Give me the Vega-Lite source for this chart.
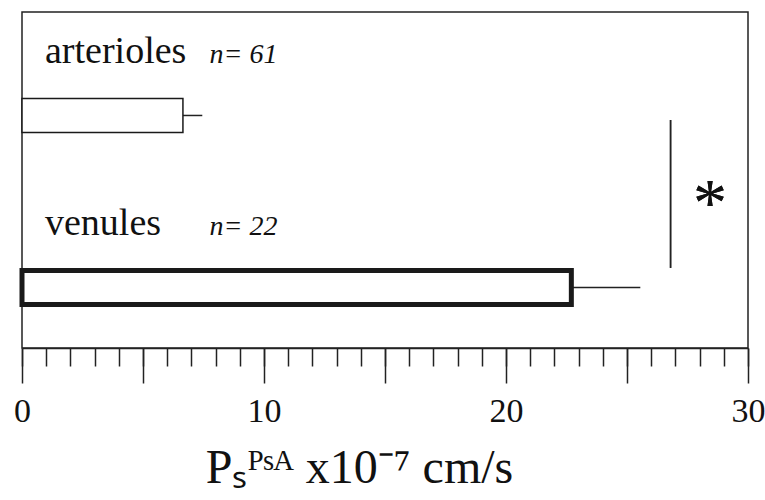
{
  "$schema": "https://vega.github.io/schema/vega-lite/v6.json",
  "width": 726,
  "height": 336,
  "autosize": {"type": "none"},
  "padding": {"left": 22, "top": 12, "right": 17, "bottom": 152},
  "background": "white",
  "view": {"stroke": "#222", "strokeWidth": 1.5},
  "config": {
    "font": "Liberation Serif",
    "axis": {"labelFont": "Liberation Serif", "titleFont": "Liberation Serif"},
    "text": {"font": "Liberation Serif"}
  },
  "data": {"values": [
    {"type": "arterioles", "mean": 6.65, "err_hi": 7.45, "n": "n= 61"},
    {"type": "venules", "mean": 22.7, "err_hi": 25.55, "n": "n= 22"}
  ]},
  "resolve": {"axis": {"x": "independent"}},
  "encoding": {
    "y": {"field": "type", "type": "nominal", "axis": null,
      "scale": {"domain": ["arterioles", "venules"], "paddingInner": 0.802, "paddingOuter": 0.378, "align": 0.665}}
  },
  "layer": [
    {
      "mark": {"type": "rule", "color": "#222", "strokeWidth": 1.5},
      "encoding": {
        "x": {"field": "mean", "type": "quantitative",
          "scale": {"domain": [0, 30], "nice": false, "zero": true},
          "axis": {
            "orient": "bottom",
            "values": [0,1,2,3,4,5,6,7,8,9,10,11,12,13,14,15,16,17,18,19,20,21,22,23,24,25,26,27,28,29,30],
            "labels": false, "title": null, "grid": false,
            "domain": true, "domainColor": "#222", "domainWidth": 1.5,
            "tickColor": "#222", "tickWidth": 1.5, "tickSize": 18
          }
        },
        "x2": {"field": "err_hi"}
      }
    },
    {
      "mark": {"type": "bar", "fill": "white", "stroke": "#1a1a1a"},
      "encoding": {
        "x": {"field": "mean", "type": "quantitative",
          "scale": {"domain": [0, 30], "nice": false, "zero": true},
          "axis": {
            "orient": "bottom",
            "values": [0, 5, 10, 15, 20, 25, 30],
            "labelExpr": "datum.value % 10 === 0 ? datum.label : ''",
            "grid": false,
            "domain": false,
            "tickColor": "#222", "tickWidth": 1.5, "tickSize": 35,
            "labelFont": "Liberation Serif", "labelFontSize": 34, "labelColor": "#111",
            "labelPadding": 11, "labelFlush": false, "labelOverlap": false,
            "title": "Pₛᴾˢᴬ x10⁻⁷ cm/s",
            "titleFont": "Liberation Serif", "titleFontSize": 48, "titleFontWeight": "normal", "titleColor": "#111",
            "titleBaseline": "alphabetic", "titleY": 134, "titleX": 337, "titleAnchor": "middle"
          }
        },
        "strokeWidth": {"condition": {"test": "datum.type === 'venules'", "value": 5}, "value": 1.5}
      }
    },
    {
      "mark": {"type": "text", "align": "left", "baseline": "alphabetic", "dy": -52.5, "fontSize": 38, "color": "#111", "font": "Liberation Serif"},
      "encoding": {
        "x": {"datum": 0.95, "type": "quantitative", "axis": null},
        "text": {"field": "type"}
      }
    },
    {
      "mark": {"type": "text", "align": "left", "baseline": "alphabetic", "dy": -52.5, "fontSize": 28, "fontStyle": "italic", "color": "#111", "font": "Liberation Serif"},
      "encoding": {
        "x": {"datum": 7.75, "type": "quantitative", "axis": null},
        "text": {"field": "n"}
      }
    },
    {
      "mark": {"type": "rule", "color": "#222", "strokeWidth": 1.5, "yOffset": 4.5, "y2Offset": -19.5},
      "encoding": {
        "x": {"datum": 26.8, "type": "quantitative", "axis": null},
        "y": {"datum": "arterioles"},
        "y2": {"datum": "venules"}
      }
    },
    {
      "mark": {"type": "text", "align": "center", "baseline": "alphabetic", "dy": 110, "fontSize": 68, "color": "#111", "font": "Liberation Serif"},
      "encoding": {
        "x": {"datum": 28.43, "type": "quantitative", "axis": null},
        "y": {"datum": "arterioles"},
        "text": {"value": "*"}
      }
    }
  ]
}
